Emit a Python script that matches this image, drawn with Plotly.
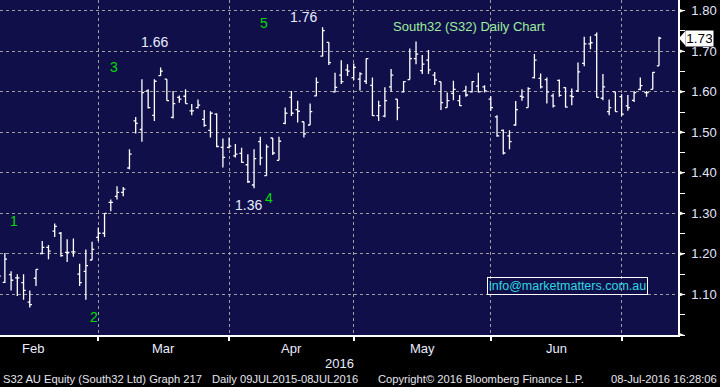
import plotly.graph_objects as go
import pandas as pd

# ---------------- data ----------------
holidays = ["2016-03-25", "2016-03-28", "2016-04-25", "2016-06-13"]
calendar = [d for d in pd.bdate_range("2016-01-29", "2016-07-08")
            if d.strftime("%Y-%m-%d") not in holidays]
first_date = pd.Timestamp("2016-02-05")
dates = [d for d in calendar if d >= first_date]

opens = [1.160, 1.130, 1.149, 1.141, 1.129, 1.081, 1.140, 1.201, 1.216, 1.256,
         1.251, 1.204, 1.205, 1.150, 1.157, 1.185, 1.241, 1.251, 1.327, 1.342,
         1.352, 1.412, 1.528, 1.507, 1.602, 1.542, 1.640, 1.631, 1.537, 1.586,
         1.589, 1.553, 1.561, 1.532, 1.505, 1.545, 1.463, 1.463, 1.442, 1.448,
         1.420, 1.370, 1.477, 1.393, 1.486, 1.431, 1.522, 1.586, 1.556, 1.526,
         1.518, 1.590, 1.688, 1.722, 1.600, 1.641, 1.654, 1.635, 1.631, 1.626,
         1.616, 1.541, 1.540, 1.612, 1.582, 1.600, 1.630, 1.682, 1.652, 1.678,
         1.641, 1.625, 1.561, 1.596, 1.578, 1.603, 1.600, 1.614, 1.612, 1.582,
         1.538, 1.505, 1.491, 1.518, 1.589, 1.561, 1.635, 1.633, 1.630, 1.590,
         1.628, 1.610, 1.590, 1.602, 1.670, 1.718, 1.740, 1.584, 1.551, 1.600,
         1.588, 1.565, 1.579, 1.606, 1.598, 1.606, 1.664]
highs = [1.190, 1.202, 1.157, 1.150, 1.150, 1.110, 1.162, 1.232, 1.222, 1.275,
         1.254, 1.236, 1.238, 1.176, 1.211, 1.230, 1.265, 1.300, 1.334, 1.367,
         1.365, 1.458, 1.538, 1.631, 1.606, 1.631, 1.660, 1.631, 1.602, 1.591,
         1.606, 1.570, 1.581, 1.555, 1.552, 1.547, 1.485, 1.487, 1.471, 1.462,
         1.446, 1.458, 1.489, 1.470, 1.486, 1.489, 1.561, 1.602, 1.578, 1.526,
         1.571, 1.635, 1.759, 1.722, 1.647, 1.678, 1.668, 1.670, 1.648, 1.682,
         1.635, 1.578, 1.611, 1.656, 1.582, 1.626, 1.707, 1.724, 1.691, 1.703,
         1.649, 1.625, 1.598, 1.627, 1.592, 1.615, 1.626, 1.647, 1.616, 1.589,
         1.542, 1.507, 1.505, 1.577, 1.606, 1.611, 1.693, 1.645, 1.635, 1.596,
         1.630, 1.611, 1.608, 1.672, 1.736, 1.737, 1.746, 1.644, 1.581, 1.600,
         1.594, 1.592, 1.602, 1.635, 1.602, 1.649, 1.736]
lows = [1.130, 1.128, 1.110, 1.096, 1.087, 1.068, 1.121, 1.199, 1.187, 1.242,
        1.193, 1.180, 1.193, 1.121, 1.087, 1.185, 1.232, 1.242, 1.305, 1.334,
        1.342, 1.409, 1.497, 1.477, 1.559, 1.528, 1.639, 1.578, 1.534, 1.573,
        1.571, 1.542, 1.559, 1.514, 1.487, 1.463, 1.413, 1.460, 1.438, 1.425,
        1.375, 1.362, 1.419, 1.393, 1.444, 1.431, 1.520, 1.540, 1.524, 1.487,
        1.518, 1.589, 1.687, 1.666, 1.598, 1.619, 1.639, 1.629, 1.603, 1.619,
        1.540, 1.528, 1.537, 1.600, 1.530, 1.598, 1.630, 1.668, 1.644, 1.644,
        1.617, 1.555, 1.561, 1.579, 1.565, 1.588, 1.598, 1.598, 1.598, 1.553,
        1.489, 1.445, 1.458, 1.516, 1.578, 1.561, 1.633, 1.608, 1.571, 1.561,
        1.588, 1.561, 1.567, 1.600, 1.663, 1.705, 1.586, 1.579, 1.542, 1.551,
        1.540, 1.553, 1.575, 1.604, 1.588, 1.606, 1.664]
closes = [1.145, 1.187, 1.135, 1.141, 1.110, 1.075, 1.162, 1.216, 1.207, 1.268,
          1.196, 1.204, 1.205, 1.129, 1.171, 1.211, 1.251, 1.300, 1.327, 1.352,
          1.360, 1.446, 1.522, 1.598, 1.561, 1.626, 1.651, 1.578, 1.571, 1.582,
          1.571, 1.553, 1.567, 1.517, 1.547, 1.465, 1.438, 1.466, 1.446, 1.426,
          1.378, 1.435, 1.437, 1.464, 1.449, 1.478, 1.547, 1.547, 1.552, 1.496,
          1.551, 1.623, 1.751, 1.672, 1.611, 1.625, 1.651, 1.660, 1.644, 1.682,
          1.541, 1.566, 1.578, 1.641, 1.561, 1.625, 1.682, 1.693, 1.668, 1.654,
          1.629, 1.573, 1.578, 1.606, 1.566, 1.592, 1.625, 1.600, 1.602, 1.561,
          1.491, 1.449, 1.477, 1.556, 1.587, 1.608, 1.678, 1.612, 1.600, 1.565,
          1.591, 1.562, 1.588, 1.649, 1.718, 1.721, 1.586, 1.612, 1.561, 1.551,
          1.545, 1.561, 1.598, 1.615, 1.598, 1.648, 1.732]

price_ticks = [1.00, 1.10, 1.20, 1.30, 1.40, 1.50, 1.60, 1.70, 1.80]
minor_ticks = [1.05, 1.15, 1.25, 1.35, 1.45, 1.55, 1.65, 1.75]

# ---------------- positions ----------------
pos_of = {d: i for i, d in enumerate(calendar)}
xpos = [pos_of[d] for d in dates]
month_ends = [i for i in range(len(calendar) - 1)
              if calendar[i + 1].month != calendar[i].month]
month_labels = [calendar[month_ends[k + 1]].strftime("%b") for k in range(len(month_ends) - 1)]
month_mids = [(month_ends[k] + month_ends[k + 1]) / 2 for k in range(len(month_ends) - 1)]

FONT = "Liberation Sans, Arial, sans-serif"
PLOT_W = 678.0
XR = [5.22, 114.05]
YR = [1.0, 1.8264]

fig = go.Figure()
fig.add_trace(go.Ohlc(
    x=xpos, open=opens, high=highs, low=lows, close=closes,
    increasing=dict(line=dict(color="white", width=1.3)),
    decreasing=dict(line=dict(color="white", width=1.3)),
    tickwidth=0.35, showlegend=False, hoverinfo="skip",
))

annotations = []
for lab, mid in zip(month_labels, month_mids):
    annotations.append(dict(x=mid, y=0, xref="x", yref="paper", yshift=-13,
                            text=lab, showarrow=False, yanchor="middle",
                            font=dict(family=FONT, size=13, color="#e8ecff")))
annotations.append(dict(x=0.5, y=0, xref="paper", yref="paper", yshift=-28,
                        text="2016", showarrow=False, yanchor="middle",
                        font=dict(family=FONT, size=13, color="#e8ecff")))

footer = [("S32 AU Equity (South32 Ltd) Graph 217", 2, "left"),
          ("Daily 09JUL2015-08JUL2016", 211, "left"),
          ("Copyright\u00a9 2016 Bloomberg Finance L.P.", 377, "left"),
          ("08-Jul-2016 16:28:06", 718, "right")]
for txt, px, anc in footer:
    annotations.append(dict(x=px / PLOT_W, y=0, xref="paper", yref="paper", yshift=-44,
                            text=txt, showarrow=False, xanchor=anc, yanchor="middle",
                            borderpad=0,
                            font=dict(family=FONT, size=11.2, color="#e6e6ee")))

labels_in_plot = [
    ("1.66", 29.94, 1.724, "#e8ecff", 14, "center"),
    ("3", 23.44, 1.661, "#00dd00", 14, "center"),
    ("1.76", 54.0, 1.784, "#e8ecff", 14, "center"),
    ("5", 47.55, 1.770, "#00dd00", 14, "center"),
    ("1.36", 45.03, 1.320, "#e8ecff", 14, "center"),
    ("4", 48.4, 1.337, "#00dd00", 14, "center"),
    ("1", 7.39, 1.281, "#00dd00", 14, "center"),
    ("2", 20.36, 1.045, "#00dd00", 14, "center"),
    ("South32 (S32) Daily Chart", 67.93, 1.761, "#9cee9c", 13, "left"),
]
for txt, x, y, col, sz, anc in labels_in_plot:
    annotations.append(dict(x=x, y=y, xref="x", yref="y", text=txt, showarrow=False,
                            xanchor=anc, yanchor="middle",
                            font=dict(family=FONT, size=sz, color=col)))

annotations.append(dict(x=96.36, y=1.1215, xref="x", yref="y",
                        text="info@marketmatters.com.au", showarrow=False,
                        bordercolor="white", borderwidth=1, borderpad=1,
                        font=dict(family=FONT, size=12.5, color="#2fd8e0")))

# last price tag (white box drawn over the axis labels)
last = closes[-1]
annotations.append(dict(x=685 / PLOT_W, y=last, xref="paper", yref="y",
                        text=f"{last:.2f}", showarrow=False, xanchor="left", yanchor="middle",
                        width=25, height=13, borderpad=1, bgcolor="white", align="center",
                        font=dict(family=FONT, size=13.5, color="black")))

shapes = []
# right-axis triangle tick markers
for v in price_ticks:
    shapes.append(dict(type="path", xref="paper", yref="y", layer="above",
                       path=f"M 1.0,{v + 0.0062} L {684.5 / PLOT_W},{v} L 1.0,{v - 0.0062} Z",
                       fillcolor="white", line=dict(width=0)))
# price tag arrow point
h = 0.0185
shapes.append(dict(type="path", xref="paper", yref="y", layer="above",
                   path=(f"M {679 / PLOT_W},{last} L {685.5 / PLOT_W},{last + h} "
                         f"L {685.5 / PLOT_W},{last - h} Z"),
                   fillcolor="white", line=dict(width=0)))

fig.update_layout(
    width=720, height=387,
    margin=dict(l=0, r=42, t=0, b=52),
    paper_bgcolor="black", plot_bgcolor="#110f4a",
    annotations=annotations, shapes=shapes,
    font=dict(family=FONT),
    xaxis=dict(range=XR, rangeslider=dict(visible=False),
               tickmode="array", tickvals=month_ends, ticktext=[""] * len(month_ends),
               showgrid=True, gridcolor="#a0a0a0", griddash="dot", gridwidth=1,
               showline=True, linecolor="white", linewidth=1.5,
               ticks="outside", ticklen=4, tickcolor="white", tickwidth=1.5,
               zeroline=False, fixedrange=True),
    yaxis=dict(range=YR, side="right",
               tickmode="array", tickvals=price_ticks,
               ticktext=["" if v == 1.0 else f"{v:.2f}" for v in price_ticks],
               showgrid=True, gridcolor="#a0a0a0", griddash="dot", gridwidth=1,
               showline=True, linecolor="white", linewidth=1.5,
               ticks="outside", ticklen=5, tickcolor="white", tickwidth=1,
               ticklabelstandoff=4,
               minor=dict(tickmode="array", tickvals=minor_ticks, ticks="outside",
                          ticklen=5, tickcolor="white", tickwidth=1, showgrid=False),
               tickfont=dict(family=FONT, size=13, color="#e0e6ff"),
               zeroline=False, fixedrange=True),
)

fig.write_html("out.html")
